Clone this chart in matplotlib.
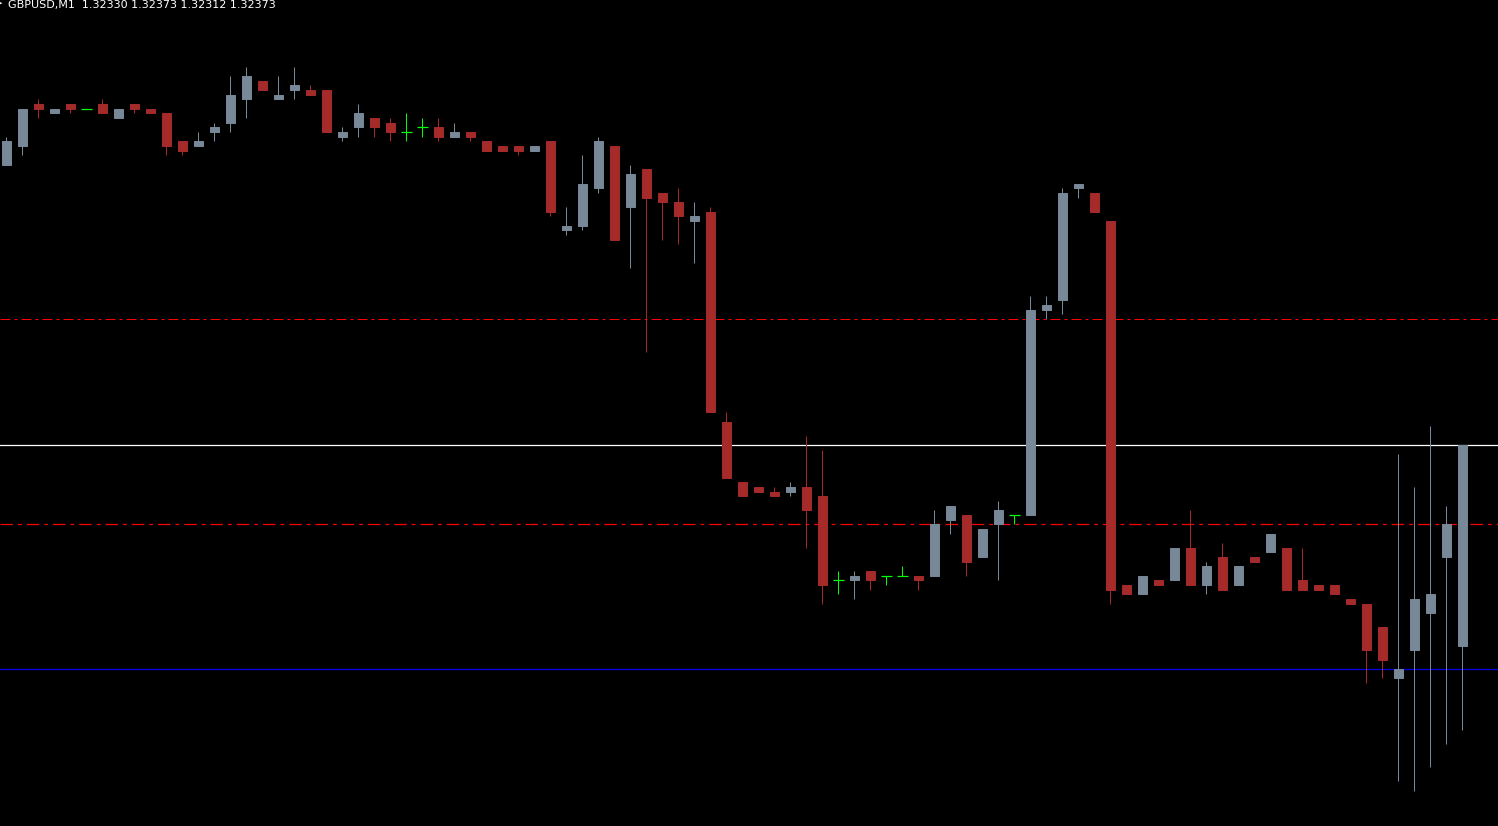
import numpy as np
import matplotlib
matplotlib.use('Agg')
import matplotlib.pyplot as plt

symbol = 'GBPUSD,M1'
last_bar = '1.32330 1.32373 1.32312 1.32373'

opens = [1.32433, 1.32437, 1.32446, 1.32444, 1.32446, 1.32445, 1.32446, 1.32443, 1.32446, 1.32445,
         1.32444, 1.32438, 1.32437, 1.32440, 1.32442, 1.32447, 1.32451, 1.32447, 1.32449, 1.32449,
         1.32449, 1.32439, 1.32441, 1.32443, 1.32442, 1.32440, 1.32441, 1.32441, 1.32439, 1.32440,
         1.32438, 1.32437, 1.32437, 1.32436, 1.32438, 1.32419, 1.32420, 1.32428, 1.32437, 1.32424,
         1.32432, 1.32427, 1.32425, 1.32421, 1.32423, 1.32378, 1.32365, 1.32364, 1.32363, 1.32363,
         1.32364, 1.32362, 1.32344, 1.32344, 1.32346, 1.32345, 1.32345, 1.32345, 1.32345, 1.32357,
         1.32358, 1.32349, 1.32356, 1.32358, 1.32358, 1.32402, 1.32404, 1.32428, 1.32427, 1.32421,
         1.32343, 1.32341, 1.32344, 1.32344, 1.32351, 1.32343, 1.32349, 1.32343, 1.32349, 1.32350,
         1.32351, 1.32344, 1.32343, 1.32343, 1.32340, 1.32339, 1.32334, 1.32323, 1.32329, 1.32337,
         1.32349, 1.32330]
highs = [1.32439, 1.32445, 1.32447, 1.32445, 1.32446, 1.32445, 1.32447, 1.32445, 1.32446, 1.32445,
         1.32444, 1.32438, 1.32440, 1.32442, 1.32452, 1.32454, 1.32451, 1.32452, 1.32454, 1.32450,
         1.32449, 1.32441, 1.32446, 1.32443, 1.32443, 1.32444, 1.32443, 1.32443, 1.32442, 1.32440,
         1.32438, 1.32437, 1.32437, 1.32437, 1.32438, 1.32424, 1.32435, 1.32439, 1.32437, 1.32433,
         1.32432, 1.32427, 1.32428, 1.32425, 1.32424, 1.32380, 1.32365, 1.32364, 1.32364, 1.32365,
         1.32375, 1.32372, 1.32346, 1.32346, 1.32346, 1.32345, 1.32347, 1.32345, 1.32359, 1.32360,
         1.32358, 1.32355, 1.32361, 1.32358, 1.32405, 1.32405, 1.32428, 1.32429, 1.32427, 1.32421,
         1.32343, 1.32345, 1.32344, 1.32351, 1.32359, 1.32348, 1.32352, 1.32347, 1.32349, 1.32354,
         1.32351, 1.32351, 1.32343, 1.32343, 1.32340, 1.32339, 1.32334, 1.32371, 1.32364, 1.32377,
         1.32360, 1.32373]
lows = [1.32433, 1.32435, 1.32443, 1.32444, 1.32444, 1.32445, 1.32444, 1.32443, 1.32444, 1.32444,
        1.32435, 1.32435, 1.32437, 1.32438, 1.32440, 1.32443, 1.32449, 1.32447, 1.32447, 1.32448,
        1.32440, 1.32438, 1.32439, 1.32439, 1.32438, 1.32438, 1.32439, 1.32438, 1.32439, 1.32438,
        1.32436, 1.32436, 1.32435, 1.32436, 1.32422, 1.32418, 1.32419, 1.32427, 1.32417, 1.32411,
        1.32393, 1.32417, 1.32416, 1.32412, 1.32380, 1.32366, 1.32362, 1.32363, 1.32362, 1.32362,
        1.32351, 1.32339, 1.32341, 1.32340, 1.32342, 1.32343, 1.32345, 1.32342, 1.32345, 1.32354,
        1.32345, 1.32349, 1.32344, 1.32356, 1.32358, 1.32400, 1.32401, 1.32426, 1.32423, 1.32339,
        1.32341, 1.32341, 1.32343, 1.32344, 1.32343, 1.32341, 1.32342, 1.32343, 1.32348, 1.32350,
        1.32342, 1.32342, 1.32342, 1.32341, 1.32339, 1.32322, 1.32323, 1.32301, 1.32299, 1.32304,
        1.32309, 1.32312]
closes = [1.32438, 1.32445, 1.32445, 1.32445, 1.32445, 1.32445, 1.32444, 1.32445, 1.32445, 1.32444,
          1.32437, 1.32436, 1.32438, 1.32441, 1.32448, 1.32452, 1.32449, 1.32448, 1.32450, 1.32448,
          1.32440, 1.32440, 1.32444, 1.32441, 1.32440, 1.32440, 1.32441, 1.32439, 1.32440, 1.32439,
          1.32436, 1.32436, 1.32436, 1.32437, 1.32423, 1.32420, 1.32429, 1.32438, 1.32417, 1.32431,
          1.32426, 1.32425, 1.32422, 1.32422, 1.32380, 1.32366, 1.32362, 1.32363, 1.32362, 1.32364,
          1.32359, 1.32343, 1.32344, 1.32345, 1.32344, 1.32345, 1.32345, 1.32344, 1.32356, 1.32360,
          1.32348, 1.32355, 1.32359, 1.32358, 1.32402, 1.32403, 1.32427, 1.32429, 1.32423, 1.32342,
          1.32341, 1.32345, 1.32343, 1.32351, 1.32343, 1.32347, 1.32342, 1.32347, 1.32348, 1.32354,
          1.32342, 1.32342, 1.32342, 1.32341, 1.32339, 1.32329, 1.32327, 1.32325, 1.32340, 1.32341,
          1.32356, 1.32373]

# horizontal levels on the chart
level_top = 1.32400
level_bid = 1.32373
level_mid = 1.32356
level_low = 1.32325

up_col = '#778899'
down_col = '#a52a2a'
doji_col = '#00ff00'

o = np.array(opens)
h = np.array(highs)
l = np.array(lows)
c = np.array(closes)
x = np.arange(len(o))

fig = plt.figure(figsize=(14.98, 8.26), dpi=100, facecolor='black')
ax = fig.add_axes([0, 0, 1, 1])
ax.set_facecolor('black')
ax.axis('off')

# levels (behind candles)
dd = (0, (10, 4, 3, 4))
ax.axhline(level_top, color='#ff0000', lw=0.72, linestyle=dd, zorder=1)
ax.axhline(level_mid, color='#ff0000', lw=0.9, linestyle=dd, zorder=1)
ax.axhline(level_bid, color='white', lw=0.9, zorder=1)
ax.axhline(level_low, color='#0000e0', lw=0.9, zorder=1)

up = c > o
down = c < o
doji = c == o

w = 0.62
ax.vlines(x[up], l[up], h[up], color=up_col, lw=0.72, zorder=2)
ax.vlines(x[down], l[down], h[down], color=down_col, lw=0.72, zorder=2)
ax.vlines(x[doji], l[doji], h[doji], color=doji_col, lw=0.72, zorder=2)

ax.bar(x[up], c[up] - o[up], bottom=o[up], width=w, color=up_col,
       edgecolor=up_col, lw=0.7, zorder=3)
ax.bar(x[down], o[down] - c[down], bottom=c[down], width=w, color=down_col,
       edgecolor=down_col, lw=0.7, zorder=3)
ax.hlines(o[doji], x[doji] - 0.34, x[doji] + 0.34, color=doji_col, lw=0.9, zorder=3)

ax.set_xlim(-0.406, 93.22)
ax.set_ylim(1.322914, 1.324683)

fig.text(0.0053, 0.9995, symbol + '  ' + last_bar, color='white', fontsize=8,
         va='top', ha='left', family='DejaVu Sans')
fig.text(0.0, 0.9995, '\u25b6', color='white', fontsize=5, va='top', ha='center')

fig.savefig('out.png', dpi=100, facecolor='black')
